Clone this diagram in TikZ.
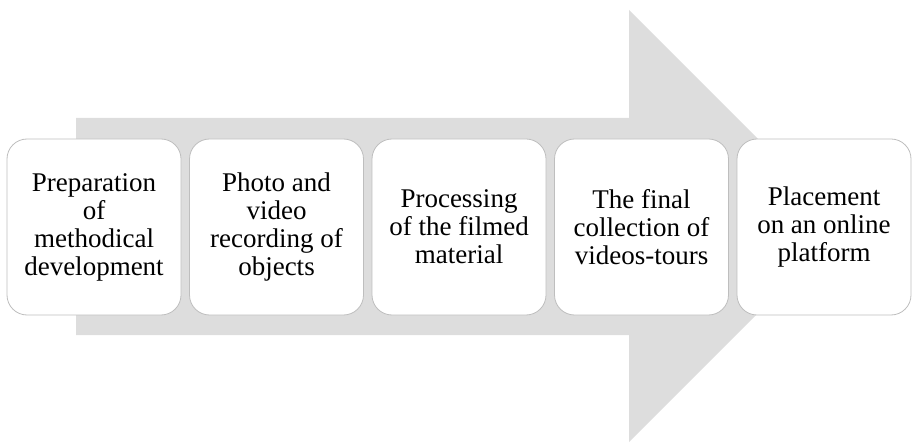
\documentclass[tikz,border=0pt]{standalone}
\usepackage{fontspec}
\setmainfont{Liberation Serif}
\usetikzlibrary{positioning}

\definecolor{arrowgray}{RGB}{221,221,221}
\definecolor{boxline}{RGB}{190,190,190}

\begin{document}
\begin{tikzpicture}[x=1pt,y=1pt,node distance=182.5pt,on grid,
	stage/.style={draw=boxline,line width=0.8pt,fill=white,rounded corners=20pt,
		minimum width=174pt,minimum height=176pt,align=center,inner sep=2pt,
		font=\fontsize{27}{28}\selectfont}]
	\useasboundingbox (0,0) rectangle (912,442);

	% big arrow in the back
	\fill[arrowgray] (76,107) -- (76,324) -- (629,324) -- (629,432)
		-- (845,216) -- (629,0) -- (629,107) -- cycle;

	\node[stage] (s_1) at (94,215) {Preparation\\of\\methodical\\development};
	\node[stage] (s_2) [right=of s_1] {Photo and\\video\\recording of\\objects};
	\node[stage] (s_3) [right=of s_2] {Processing\\of the filmed\\material};
	\node[stage] (s_4) [right=of s_3] {The final\\collection of\\videos-tours};
	\node[stage] (s_5) [right=of s_4] {Placement\\on an online\\platform};

\end{tikzpicture}
\end{document}
